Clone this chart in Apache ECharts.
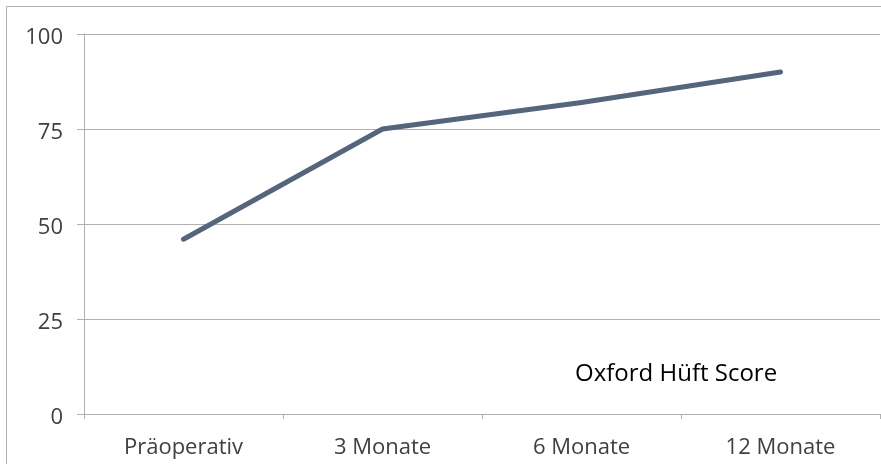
<!DOCTYPE html>
<html>
<head>
<meta charset="utf-8">
<script src="https://cdn.jsdelivr.net/npm/echarts@6/dist/echarts.min.js"></script>
<style>
  html, body { margin: 0; padding: 0; background: #fff; }
  #chart { width: 881px; height: 464px; }
</style>
</head>
<body>
<div id="chart"></div>
<script>
// Zeitpunkte der Nachuntersuchung
const categories = ['Präoperativ', '3 Monate', '6 Monate', '12 Monate'];
// Mittlerer Oxford Hip Score je Zeitpunkt
const scoreValues = [46, 75, 82, 90];
const seriesName = 'Oxford Hüft Score';
// Skala der Y-Achse
const yMin = 0, yMax = 100, yStep = 25;

const chart = echarts.init(document.getElementById('chart'));
const gridColor = '#b0b0b0';
const fontFamily = '"Open Sans", "Noto Sans", sans-serif';

chart.setOption({
  animation: false,
  backgroundColor: '#fff',
  grid: { left: 84, right: 1, top: 34, bottom: 50, containLabel: false },
  legend: {
    data: [seriesName],
    left: 565,
    top: 357,
    itemWidth: 0,
    itemHeight: 0,
    icon: 'rect',
    textStyle: { color: '#000', fontSize: 24, fontFamily: fontFamily }
  },
  xAxis: {
    type: 'category',
    data: categories,
    boundaryGap: true,
    axisLine: { show: true, lineStyle: { color: gridColor, width: 1 } },
    axisTick: { show: true, length: 5, lineStyle: { color: gridColor } },
    axisLabel: { color: '#404040', fontSize: 22, fontFamily: fontFamily, margin: 23 }
  },
  yAxis: {
    type: 'value',
    min: yMin, max: yMax, interval: yStep,
    axisLine: { show: true, lineStyle: { color: gridColor, width: 1 } },
    axisTick: { show: true, length: 7, lineStyle: { color: gridColor } },
    splitLine: { show: true, lineStyle: { color: gridColor, width: 1 } },
    axisLabel: {
      margin: 21,
      formatter: '{v|{value}}',
      rich: {
        v: { color: '#404040', fontSize: 22, fontFamily: fontFamily, padding: [7, 0, 0, 0] }
      }
    }
  },
  series: [{
    name: seriesName,
    type: 'line',
    data: scoreValues,
    symbol: 'none',
    lineStyle: { color: '#55657c', width: 5, cap: 'round', join: 'round' },
    itemStyle: { color: '#55657c' }
  }],
  graphic: [{
    type: 'rect',
    shape: { x: 6.5, y: 6.5, width: 1000, height: 1000 },
    style: { fill: 'none', stroke: '#b0b0b0', lineWidth: 1 },
    silent: true,
    z: 100
  }]
});
</script>
</body>
</html>
